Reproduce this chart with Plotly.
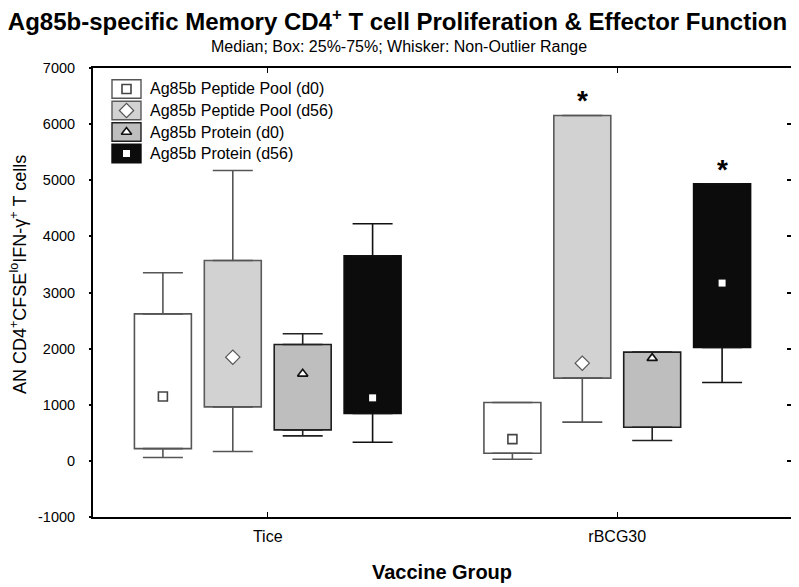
import plotly.graph_objects as go

# ---------------- data ----------------
categories = ["Tice", "rBCG30"]
series_names = ["Ag85b Peptide Pool (d0)", "Ag85b Peptide Pool (d56)",
                "Ag85b Protein (d0)", "Ag85b Protein (d56)"]

lower_whisker = [[59, 30], [166, 690], [446, 362], [333, 1396]]
q1_values     = [[219, 137], [962, 1474], [552, 600], [843, 2020]]
median_values = [[1146, 387], [1848, 1741], [1551, 1830], [1123, 3168]]
q3_values     = [[2620, 1039], [3570, 6155], [2073, 1937], [3654, 4937]]
upper_whisker = [[3351, 1039], [5175, 6155], [2264, 1937], [4225, 4937]]
significant   = [[False, False], [False, True], [False, False], [False, True]]

y_ticks = [-1000, 0, 1000, 2000, 3000, 4000, 5000, 6000, 7000]
y_tick_labels = ["-1000", "0", "1000", "2000", "3000", "4000", "5000", "6000", "7000"]

# ---------------- style ----------------
fills   = ["#ffffff", "#d2d2d2", "#bebebe", "#0c0c0c"]
edges   = ["#555555", "#5a5a5a", "#1e1e1e", "#0c0c0c"]
whisk   = ["#555555", "#555555", "#222222", "#111111"]
offsets = [-0.3, -0.1, 0.1, 0.3]
box_w = 0.163
med_markers = [
    dict(symbol="square", size=9, color="white", line=dict(color="#444444", width=1.6)),
    dict(symbol="diamond", size=11, color="white", line=dict(color="#555555", width=1.2)),
    dict(symbol="triangle-up", size=9, color="white", line=dict(color="#111111", width=1.6)),
    dict(symbol="square", size=7, color="white", line=dict(width=0)),
]
FONT = "Liberation Sans, Arial, sans-serif"

# page offset (browser body margin)
OFF = 8
FIG_W, FIG_H = 799 - OFF, 587 - OFF
L, T, W, H = 93 - OFF, 68 - OFF, 699, 449

def px(xp):  # page x -> paper
    return (xp - OFF - L) / W

def py(yp):  # page y -> paper
    return (T + H - (yp - OFF)) / H

fig = go.Figure()

for j in range(4):
    xs = [i + offsets[j] for i in range(len(categories))]
    q1 = q1_values[j]
    q3 = q3_values[j]
    fig.add_trace(go.Bar(
        x=xs, y=[b - a for a, b in zip(q1, q3)], base=q1, width=box_w,
        marker=dict(color=fills[j], line=dict(color=edges[j], width=1.6)),
        showlegend=False, hoverinfo="skip"))
    fig.add_trace(go.Scatter(
        x=xs, y=q3, mode="markers",
        marker=dict(size=1, color="rgba(0,0,0,0)"),
        error_y=dict(type="data", symmetric=False,
                     array=[u - b for u, b in zip(upper_whisker[j], q3)],
                     arrayminus=[0] * len(q3),
                     width=20, thickness=1.6, color=whisk[j]),
        showlegend=False, hoverinfo="skip"))
    fig.add_trace(go.Scatter(
        x=xs, y=q1, mode="markers",
        marker=dict(size=1, color="rgba(0,0,0,0)"),
        error_y=dict(type="data", symmetric=False,
                     array=[0] * len(q1),
                     arrayminus=[a - l for a, l in zip(q1, lower_whisker[j])],
                     width=20, thickness=1.6, color=whisk[j]),
        showlegend=False, hoverinfo="skip"))
    fig.add_trace(go.Scatter(
        x=xs, y=median_values[j], mode="markers", marker=med_markers[j],
        showlegend=False, hoverinfo="skip"))
    for i in range(len(categories)):
        if significant[j][i]:
            fig.add_annotation(x=xs[i], y=upper_whisker[j][i], text="<b>*</b>",
                               showarrow=False, yanchor="bottom", yshift=-3,
                               font=dict(family=FONT, size=28, color="black"))

# ---------------- manual legend ----------------
row_centers = [89, 110.5, 132, 153.5]
for j, name in enumerate(series_names):
    yc = row_centers[j]
    fig.add_shape(type="rect", xref="paper", yref="paper",
                  x0=px(112), x1=px(141), y0=py(yc + 9.3), y1=py(yc - 9.3),
                  fillcolor=fills[j], line=dict(color=edges[j], width=1.4),
                  layer="below")
    fig.add_trace(go.Scatter(x=[px(126.5)], y=[py(yc)], xaxis="x2", yaxis="y2",
                             mode="markers", marker=med_markers[j],
                             showlegend=False, hoverinfo="skip"))
    fig.add_annotation(xref="paper", yref="paper", x=px(148), y=py(yc),
                       xanchor="left", yanchor="middle", text=name, showarrow=False,
                       font=dict(family=FONT, size=16, color="black"))

# ---------------- texts ----------------
fig.add_annotation(xref="paper", yref="paper", x=px(399), y=py(47),
                   text="Median; Box: 25%-75%; Whisker: Non-Outlier Range",
                   showarrow=False, yanchor="middle",
                   font=dict(family=FONT, size=16, color="black"))
fig.add_annotation(xref="paper", yref="paper", x=px(18), y=py(275),
                   text="AN CD4<sup>+</sup>CFSE<sup>lo</sup>IFN-γ<sup>+</sup> T cells",
                   textangle=-90, showarrow=False, xanchor="center", yanchor="middle",
                   font=dict(family=FONT, size=18, color="black"))
fig.add_annotation(xref="paper", yref="paper", x=px(442), y=py(572),
                   text="<b>Vaccine Group</b>", showarrow=False, yanchor="middle",
                   font=dict(family=FONT, size=20, color="black"))

axis_common = dict(range=[-1000, 7000], tickvals=y_ticks, showgrid=False, zeroline=False)

fig.update_layout(
    width=FIG_W, height=FIG_H,
    margin=dict(l=L, r=FIG_W - L - W, t=T, b=FIG_H - T - H, autoexpand=False),
    paper_bgcolor="white", plot_bgcolor="white",
    barmode="overlay",
    title=dict(text="<b>Ag85b-specific Memory CD4<sup>+</sup> T cell Proliferation &amp; Effector Function</b>",
               x=(397.5 - OFF) / FIG_W, xanchor="center", y=1 - (22 - OFF) / FIG_H, yanchor="middle",
               font=dict(family=FONT, size=24, color="black")),
    xaxis=dict(range=[-0.5, 1.5], tickvals=list(range(len(categories))), ticktext=categories,
               showgrid=False, zeroline=False, showline=True, linecolor="black", linewidth=2,
               mirror="ticks", ticks="inside", ticklen=5, tickcolor="black",
               ticklabelstandoff=4,
               tickfont=dict(family=FONT, size=16, color="black")),
    # main y axis: labels pushed away by transparent outside ticks
    yaxis=dict(**axis_common, ticktext=y_tick_labels,
               showline=True, linecolor="black", linewidth=2, mirror=True,
               ticks="outside", ticklen=13, tickcolor="rgba(0,0,0,0)",
               tickfont=dict(family=FONT, size=14.5, color="black")),
    # visible short tick marks on left (outside) and right (inside)
    yaxis3=dict(**axis_common, overlaying="y", side="left", anchor="x",
                showline=False, showticklabels=False,
                ticks="outside", ticklen=3, tickcolor="black", tickwidth=1.5),
    yaxis4=dict(**axis_common, overlaying="y", side="right", anchor="x",
                showline=False, showticklabels=False,
                ticks="inside", ticklen=5, tickcolor="black", tickwidth=1.5),
    xaxis2=dict(overlaying="x", range=[0, 1], visible=False, anchor="y2"),
    yaxis2=dict(overlaying="y", range=[0, 1], visible=False, anchor="x2"),
    font=dict(family=FONT),
)

# invisible anchor traces so the extra tick axes are drawn
fig.add_trace(go.Scatter(x=[0], y=[0], yaxis="y3", mode="markers",
                         marker=dict(size=1, color="rgba(0,0,0,0)"),
                         showlegend=False, hoverinfo="skip"))
fig.add_trace(go.Scatter(x=[0], y=[0], yaxis="y4", mode="markers",
                         marker=dict(size=1, color="rgba(0,0,0,0)"),
                         showlegend=False, hoverinfo="skip"))

fig.write_html("out.html")
